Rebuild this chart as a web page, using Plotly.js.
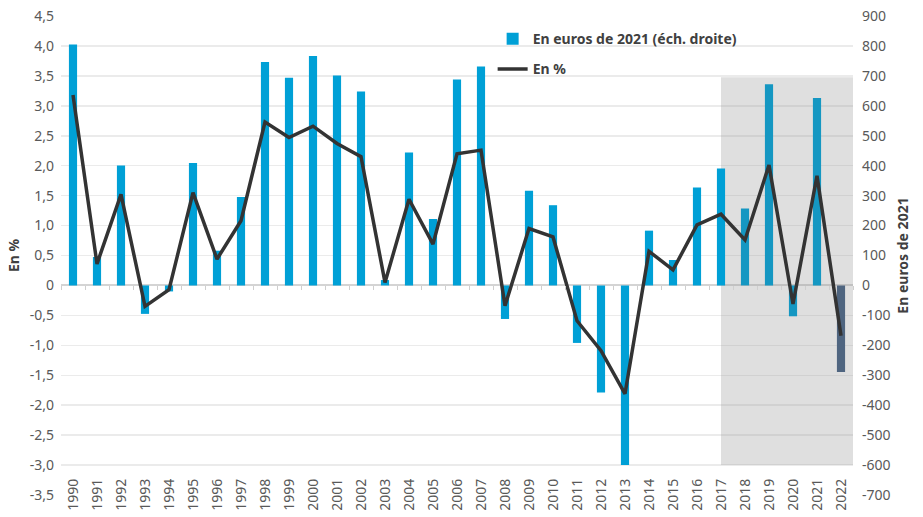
<!DOCTYPE html>
<html>
<head>
<meta charset="utf-8">
<script src="https://cdn.plot.ly/plotly-3.0.1.min.js"></script>
<style>html,body{margin:0;padding:0;background:#fff;}#chart{width:923px;height:517px;}</style>
</head>
<body>
<div id="chart"></div>
<script>
const years = ["1990","1991","1992","1993","1994","1995","1996","1997","1998","1999","2000","2001","2002","2003","2004","2005","2006","2007","2008","2009","2010","2011","2012","2013","2014","2015","2016","2017","2018","2019","2020","2021","2022"];
const eurosValues = [805, 95, 401, -95, -20, 409, 116, 295, 746, 694, 766, 701, 648, 18, 444, 222, 688, 731, -112, 316, 268, -192, -358, -600, 183, 85, 327, 391, 257, 672, -103, 626, -289];
const pctValues = [3.18, 0.36, 1.52, -0.35, -0.07, 1.55, 0.44, 1.08, 2.73, 2.47, 2.66, 2.37, 2.15, 0.05, 1.44, 0.69, 2.20, 2.26, -0.34, 0.95, 0.81, -0.59, -1.09, -1.81, 0.57, 0.26, 1.01, 1.19, 0.76, 2.01, -0.31, 1.83, -0.84];
const pctTickVals = [-3.5,-3,-2.5,-2,-1.5,-1,-0.5,0,0.5,1,1.5,2,2.5,3,3.5,4,4.5];
const pctTickText = ["-3,5","-3,0","-2,5","-2,0","-1,5","-1,0","-0,5","0","0,5","1,0","1,5","2,0","2,5","3,0","3,5","4,0","4,5"];
const eurosTickVals = [-700,-600,-500,-400,-300,-200,-100,0,100,200,300,400,500,600,700,800,900];
const eurosTickText = ["-700","-600","-500","-400","-300","-200","-100","0","100","200","300","400","500","600","700","800","900"];
const seriesNames = ["En euros de 2021 (éch. droite)", "En %"];
const axisTitles = {left: "En %", right: "En euros de 2021"};
const shadeFrom = "2017", shadeTo = "2022";
const eurosRange = [-700, 900], pctRange = [-3.5, 4.5];

const barColors = years.map((y, i) => {
  if (y === "2022") return "#4f6580";
  if (+y > +shadeFrom) return "#1597c2";
  return "#00a0d6";
});

const FONT = "Noto Sans, Open Sans, sans-serif";
const tickFont = {family: FONT, size: 14, color: "#595959"};

const traces = [
  {
    type: "bar", x: years, y: eurosValues, name: seriesNames[0],
    xaxis: "x", yaxis: "y", marker: {color: barColors, line: {width: 0}},
    legendgroup: "a", hoverinfo: "x+y"
  },
  {
    type: "scatter", mode: "none", x: years, y: eurosValues, showlegend: false,
    xaxis: "x2", yaxis: "y", hoverinfo: "skip"
  },
  {
    type: "scatter", mode: "lines", x: years, y: pctValues, name: seriesNames[1],
    xaxis: "x", yaxis: "y2", line: {color: "#333333", width: 3.5},
    legendgroup: "b", hoverinfo: "x+y"
  }
];

const iFrom = years.indexOf(shadeFrom);
const iTo = years.indexOf(shadeTo);
const zeroPos = (0 - eurosRange[0]) / (eurosRange[1] - eurosRange[0]);

const layout = {
  width: 923, height: 517,
  margin: {l: 61, r: 70, t: 16, b: 22, pad: 0},
  paper_bgcolor: "#ffffff", plot_bgcolor: "#ffffff",
  font: {family: FONT, size: 14, color: "#595959"},
  bargap: 0.66,
  showlegend: true,
  legend: {
    x: 0.545, y: 0.985, xanchor: "left", yanchor: "top",
    bgcolor: "rgba(0,0,0,0)", traceorder: "grouped", tracegroupgap: 9,
    font: {family: FONT, size: 14, color: "#404040", weight: "bold"}
  },
  xaxis: {
    type: "category", categoryorder: "array", categoryarray: years,
    range: [-0.5, years.length - 0.5],
    tickangle: -90, tickfont: tickFont, showgrid: false, zeroline: false,
    showline: false, ticks: "", ticklabelstandoff: -20, fixedrange: true
  },
  xaxis2: {
    type: "category", categoryorder: "array", categoryarray: years,
    range: [-0.5, years.length - 0.5], overlaying: "x", anchor: "free", position: zeroPos,
    side: "bottom", ticks: "outside", tickson: "boundaries", ticklen: 4, tickwidth: 1,
    tickcolor: "#cfcfcf", showticklabels: false, showgrid: false, zeroline: false, showline: false
  },
  yaxis: {
    side: "right", range: eurosRange, tickvals: eurosTickVals, ticktext: eurosTickText,
    tickfont: tickFont, showgrid: true, gridcolor: "#ebebeb", gridwidth: 1.5,
    zeroline: true, zerolinecolor: "#d4d4d4", zerolinewidth: 2,
    showline: false, ticks: "", ticklabelstandoff: 8,
    title: {text: axisTitles.right, font: {family: FONT, size: 14, color: "#404040", weight: "bold"}, standoff: 8}
  },
  yaxis2: {
    side: "left", overlaying: "y", range: pctRange, tickvals: pctTickVals, ticktext: pctTickText,
    tickfont: tickFont, showgrid: false, zeroline: false, showline: false, ticks: "",
    ticklabelstandoff: 6,
    title: {text: axisTitles.left, font: {family: FONT, size: 14, color: "#404040", weight: "bold"}, standoff: 6}
  },
  shapes: [{
    type: "rect", layer: "between", xref: "x", yref: "y",
    x0: iFrom, x1: iTo + 0.5, y0: -600, y1: 695,
    fillcolor: "rgba(150,150,150,0.3)", line: {width: 0}
  }]
};

Plotly.newPlot("chart", traces, layout, {displayModeBar: false, staticPlot: true});
</script>
</body>
</html>
